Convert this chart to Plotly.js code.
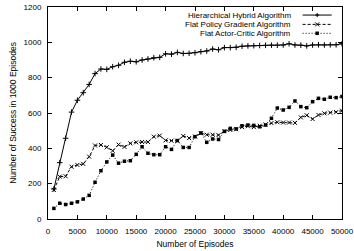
<!DOCTYPE html>
<html>
<head>
<meta charset="utf-8">
<script src="https://cdn.plot.ly/plotly-3.0.1.min.js"></script>
<style>html,body{margin:0;padding:0;background:#fff;}#chart{width:354px;height:251px;}</style>
</head>
<body>
<div id="chart"></div>
<script>
var episodes = [1000,2000,3000,4000,5000,6000,7000,8000,9000,10000,
  11000,12000,13000,14000,15000,16000,17000,18000,19000,20000,
  21000,22000,23000,24000,25000,26000,27000,28000,29000,30000,
  31000,32000,33000,34000,35000,36000,37000,38000,39000,40000,
  41000,42000,43000,44000,45000,46000,47000,48000,49000,50000];
var hierarchical = [170,319,457,605,672,715,762,823,849,847,
  862,870,887,893,890,900,906,913,915,935,
  933,943,937,938,941,947,951,962,958,970,
  970,972,978,980,981,982,983,984,984,985,
  992,985,984,980,985,986,985,986,986,992];
var policyGradient = [165,240,242,296,306,312,353,416,419,406,
  386,421,408,428,434,436,436,466,472,445,
  443,443,470,458,467,485,477,477,475,497,
  504,508,520,525,520,528,535,543,548,546,
  546,544,575,587,566,589,598,602,605,613];
var actorCritic = [60,89,82,89,97,113,134,208,273,323,
  362,316,327,330,366,409,372,364,364,409,
  394,444,405,405,466,487,434,453,450,496,
  513,510,528,532,530,522,532,570,628,617,
  632,668,636,630,664,683,678,689,687,693];
var seriesNames = ["Hierarchical Hybrid Algorithm","Flat Policy Gradient Algorithm","Flat Actor-Critic Algorithm"];
var xTickVals = [0,5000,10000,15000,20000,25000,30000,35000,40000,45000,50000];
var yTickVals = [0,200,400,600,800,1000,1200];

var FONT = "Liberation Sans, Arial, Helvetica, sans-serif";
var traces = [
  {x: episodes, y: hierarchical, name: seriesNames[0], type: "scatter", mode: "lines+markers",
   line: {color: "#000", width: 1},
   marker: {symbol: "cross-thin-open", size: 4, color: "#000", line: {color: "#000", width: 1}}},
  {x: episodes, y: policyGradient, name: seriesNames[1], type: "scatter", mode: "lines+markers",
   line: {color: "#000", width: 1, dash: "3px,2px"},
   marker: {symbol: "x-thin-open", size: 4, color: "#000", line: {color: "#000", width: 1}}},
  {x: episodes, y: actorCritic, name: seriesNames[2], type: "scatter", mode: "lines+markers",
   line: {color: "#000", width: 1, dash: "1px,2px"},
   marker: {symbol: "square", size: 3.5, color: "#000", line: {width: 0}}}
];

// manual gnuplot-style legend (text left, sample right)
var rowsY = [0.962, 0.918, 0.876];
var sx0 = 0.866, sx1 = 0.965, sxc = 0.9156, textX = 0.834;
var dashes = ["solid", "3px,2px", "1px,2px"];
var shapes = [], annotations = [];
for (var i = 0; i < 3; i++) {
  shapes.push({type: "line", xref: "paper", yref: "paper", x0: sx0, x1: sx1, y0: rowsY[i], y1: rowsY[i],
    line: {color: "#000", width: 1, dash: dashes[i]}});
  annotations.push({xref: "paper", yref: "paper", x: textX, y: rowsY[i], xanchor: "right", yanchor: "middle",
    text: seriesNames[i], showarrow: false, font: {family: FONT, size: 8, color: "#000"}});
}
function pline(ax, ay, x0, y0, x1, y1) {
  return {type: "line", xref: "paper", yref: "paper", xsizemode: "pixel", ysizemode: "pixel",
    xanchor: ax, yanchor: ay, x0: x0, x1: x1, y0: y0, y1: y1, line: {color: "#000", width: 1}};
}
// + marker
shapes.push(pline(sxc, rowsY[0], -2, 0, 2, 0));
shapes.push(pline(sxc, rowsY[0], 0, -2, 0, 2));
// x marker
shapes.push(pline(sxc, rowsY[1], -2, -2, 2, 2));
shapes.push(pline(sxc, rowsY[1], -2, 2, 2, -2));
// filled square
shapes.push({type: "rect", xref: "paper", yref: "paper", xsizemode: "pixel", ysizemode: "pixel",
  xanchor: sxc, yanchor: rowsY[2], x0: -1.75, x1: 1.75, y0: -1.75, y1: 1.75, fillcolor: "#000", line: {width: 0}});

var layout = {
  width: 354, height: 251,
  margin: {l: 48, r: 12, t: 7, b: 32},
  paper_bgcolor: "#fff", plot_bgcolor: "#fff",
  showlegend: false,
  font: {family: FONT, size: 8, color: "#000"},
  xaxis: {range: [0, 50000], tickvals: xTickVals, ticktext: xTickVals.map(String),
    ticks: "inside", ticklen: 4, tickcolor: "#000", mirror: "ticks", showline: true, linecolor: "#000", linewidth: 1,
    showgrid: false, zeroline: false, tickfont: {family: FONT, size: 8, color: "#000"}, ticklabelstandoff: 4,
    title: {text: "Number of Episodes", font: {family: FONT, size: 8.5, color: "#000"}, standoff: 6}},
  yaxis: {range: [0, 1200], tickvals: yTickVals, ticktext: yTickVals.map(String),
    ticks: "inside", ticklen: 4, tickcolor: "#000", mirror: "ticks", showline: true, linecolor: "#000", linewidth: 1,
    showgrid: false, zeroline: false, tickfont: {family: FONT, size: 8, color: "#000"}, ticklabelstandoff: 4,
    title: {text: "Number of Success in 1000 Episodes", font: {family: FONT, size: 8.5, color: "#000"}, standoff: 5}},
  shapes: shapes,
  annotations: annotations
};
Plotly.newPlot("chart", traces, layout, {staticPlot: true, displayModeBar: false});
</script>
</body>
</html>
